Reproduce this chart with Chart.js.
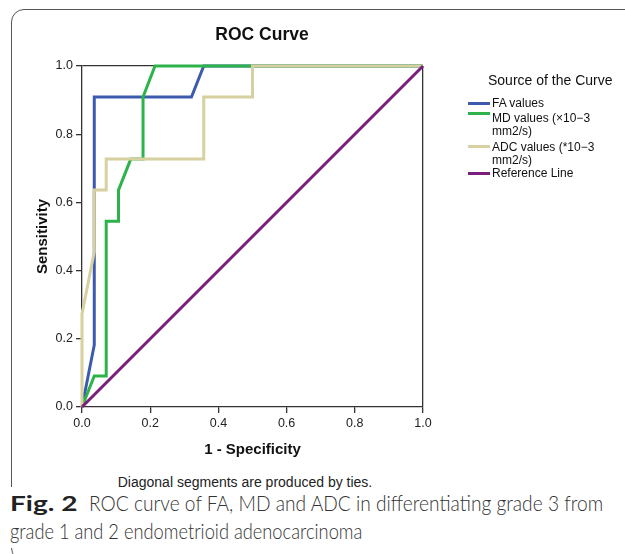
<!DOCTYPE html>
<html><head><meta charset="utf-8">
<script src="https://cdn.jsdelivr.net/npm/chart.js@4.4.1/dist/chart.umd.min.js"></script>
<style>
html,body{margin:0;padding:0;background:#fff;}
body{width:625px;height:554px;position:relative;overflow:hidden;font-family:"Liberation Sans",Arial,sans-serif;}
#frame{position:absolute;left:11px;top:9px;width:720px;height:552px;border:1.5px solid #555;border-radius:13px;box-sizing:border-box;}
#capbg{position:absolute;left:0;top:487px;width:625px;height:61px;background:#fff;}
#c{position:absolute;left:0;top:0;}
#ttl{position:absolute;left:262px;top:24px;transform:translateX(-50%);font-weight:bold;font-size:17.5px;line-height:20px;color:#111;white-space:nowrap;}
.lg{position:absolute;font-size:12px;line-height:13px;color:#111;white-space:nowrap;}
.sw{position:absolute;left:468px;width:22px;height:3px;}
#lgt{position:absolute;left:488px;top:72px;font-size:14px;line-height:16px;color:#111;white-space:nowrap;}
#diag{position:absolute;left:245px;top:474px;transform:translateX(-50%);font-size:14px;line-height:16px;color:#222;white-space:nowrap;}
.cap{position:absolute;font-family:Lato,"Open Sans","Noto Sans",sans-serif;font-weight:300;font-size:21px;line-height:28px;color:#333;white-space:nowrap;transform-origin:0 0;}
#capF{font-weight:700;color:#222;}
</style>
</head><body>
<div id="frame"></div>
<div id="capbg"></div>
<canvas id="c" width="625" height="470"></canvas>
<div id="ttl">ROC Curve</div>
<div id="lgt">Source of the Curve</div>
<div class="sw" style="top:101.5px;background:#3D5BAE"></div>
<div class="lg" style="left:492px;top:96.5px">FA values</div>
<div class="sw" style="top:111.5px;background:#2DB34A"></div>
<div class="lg" style="left:492px;top:111.5px">MD values (×10−3<br>mm2/s)</div>
<div class="sw" style="top:144.5px;background:#D7D0A0"></div>
<div class="lg" style="left:492px;top:140.5px">ADC values (*10−3<br>mm2/s)</div>
<div class="sw" style="top:171.5px;background:#7A1E7E"></div>
<div class="lg" style="left:492px;top:166.5px">Reference Line</div>
<div id="diag">Diagonal segments are produced by ties.</div>
<div class="cap" id="capF" style="left:10px;top:489px">Fig. 2</div>
<div class="cap" id="cap1" style="left:89px;top:489px">ROC curve of FA, MD and ADC in differentiating grade 3 from</div>
<div class="cap" id="cap2" style="left:10px;top:517px">grade 1 and 2 endometrioid adenocarcinoma</div>
<script>
// tick labels
const tickValues = [0, 0.2, 0.4, 0.6, 0.8, 1.0];
// series (1 - specificity, sensitivity)
const faFpr  = [0, 0.036, 0.036, 0.321, 0.357, 1];
const faTpr  = [0, 0.182, 0.909, 0.909, 1, 1];
const mdFpr  = [0, 0.036, 0.071, 0.071, 0.107, 0.107, 0.143, 0.179, 0.179, 0.214, 1];
const mdTpr  = [0, 0.091, 0.091, 0.545, 0.545, 0.636, 0.727, 0.727, 0.909, 1, 1];
const adcFpr = [0, 0, 0.036, 0.036, 0.071, 0.071, 0.357, 0.357, 0.5, 0.5, 1];
const adcTpr = [0, 0.273, 0.455, 0.636, 0.636, 0.727, 0.727, 0.909, 0.909, 1, 1];
const refFpr = [0, 1];
const refTpr = [0, 1];

const pts = (xs, ys) => xs.map((x, i) => ({x: x, y: ys[i]}));
const ds = (label, xs, ys, color, order) => ({
  label, data: pts(xs, ys), borderColor: color, backgroundColor: color,
  borderWidth: 3, pointRadius: 0, showLine: true, tension: 0, order, clip: 4,
  borderJoinStyle: 'miter', borderCapStyle: 'butt'
});

const axisCommon = (titleText, titlePad) => ({
  type: 'linear', min: 0, max: 1,
  afterBuildTicks: s => { s.ticks = tickValues.map(v => ({value: v})); },
  ticks: { color: '#222', font: {family: 'Liberation Sans', size: 12.5}, padding: 3,
           callback: v => Number(v).toFixed(1), maxRotation: 0, autoSkip: false },
  grid: { drawOnChartArea: true, tickLength: 6, tickColor: '#333', lineWidth: 1.3,
          color: c => (c.tick && c.tick.value === 1) ? '#333' : 'rgba(0,0,0,0)' },
  border: { display: true, color: '#333', width: 1.3 },
  title: { display: true, text: titleText, color: '#111', padding: titlePad,
           font: {family: 'Liberation Sans', size: 15, weight: 'bold'} }
});

const xAxis = axisCommon('1 - Specificity', {top: 0, bottom: 11});
xAxis.afterFit = s => { s.height = 63; };
const yAxis = axisCommon('Sensitivity', {top: 34, bottom: 0});
yAxis.afterFit = s => { s.width = 82; };

new Chart(document.getElementById('c'), {
  type: 'scatter',
  data: { datasets: [
    ds('FA values', faFpr, faTpr, '#3D5BAE', 4),
    ds('MD values (×10−3 mm2/s)', mdFpr, mdTpr, '#2DB34A', 3),
    ds('ADC values (*10−3 mm2/s)', adcFpr, adcTpr, '#D7D0A0', 2),
    ds('Reference Line', refFpr, refTpr, '#7A1E7E', 1)
  ]},
  options: {
    responsive: false, animation: false, devicePixelRatio: 1,
    layout: { padding: {left: 0, top: 66, right: 202, bottom: 0} },
    plugins: { legend: {display: false}, tooltip: {enabled: false}, title: {display: false} },
    scales: { x: xAxis, y: yAxis }
  }
});

function fitTo(id, target) {
  const el = document.getElementById(id);
  el.style.transform = 'scaleX(' + (target / el.offsetWidth) + ')';
}
function fitCap() {
  fitTo('capF', 68);
  fitTo('cap1', 514);
  fitTo('cap2', 352);
}
fitCap();
if (document.fonts && document.fonts.ready) document.fonts.ready.then(fitCap);
</script>
</body></html>
